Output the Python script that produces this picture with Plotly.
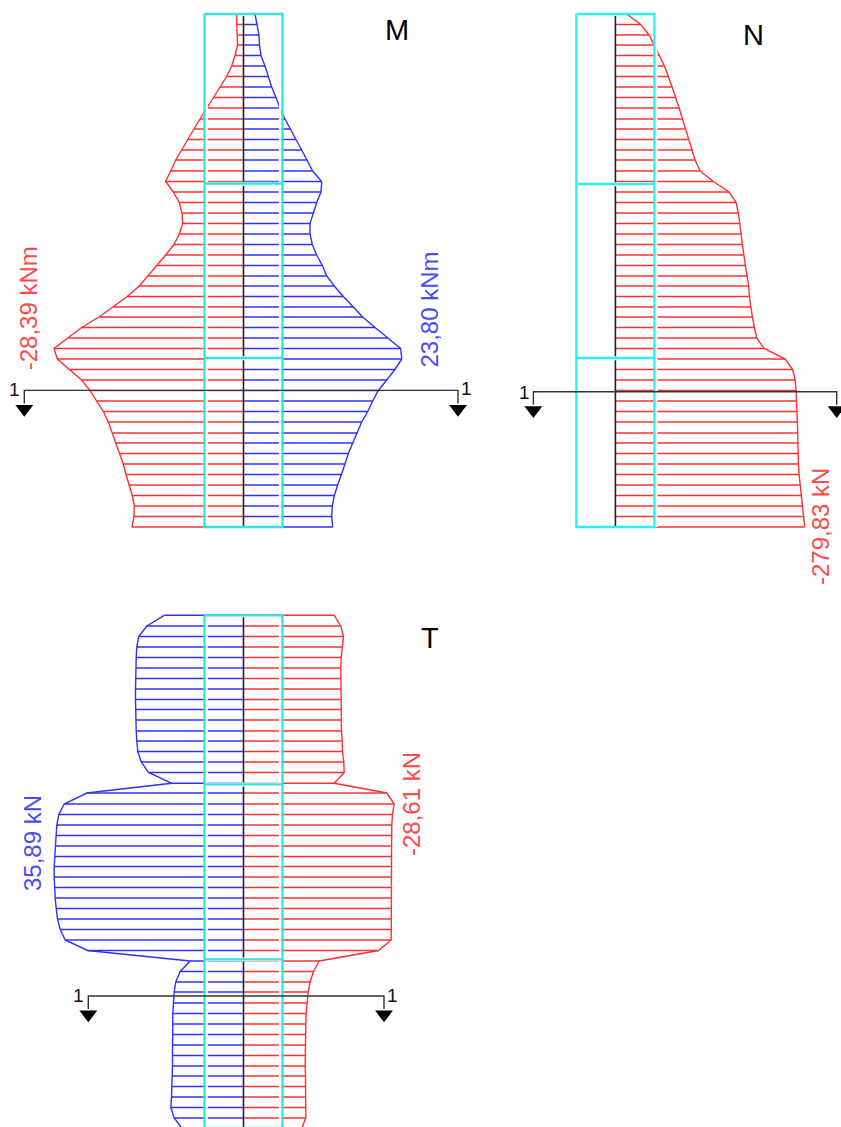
import plotly.graph_objects as go

RED = '#ff3030'
BLUE = '#3030ff'
LABEL_RED = '#ff4a4a'
LABEL_BLUE = '#4a4aff'
CYAN = '#35e3dc'
CYAN_N = '#2ef0ee'
DARK = '#222222'

# levels along the wall (top to bottom), shared by M and N
levels = [14, 24.5, 35, 45, 55.5, 66, 76.5, 87, 97.5, 108,
          119, 129, 139.5, 150, 160, 171, 181.5, 192, 202.5, 213,
          223.5, 234, 244.5, 255, 265.5, 276, 286, 296.5, 307, 317,
          327.5, 338, 348.5, 359, 369.5, 380, 390.5, 401, 411.5, 422,
          433, 443, 453.5, 464, 474.5, 485, 495.5, 506, 516.5, 527]

# bending moment, drawn length of each ordinate
m_neg = [7, 6.5, 6, 6, 8.5, 11.8, 16.8, 23.5, 30.5, 36.8,
         43.5, 49.5, 55.5, 61.8, 67.8, 72.8, 77.8, 70.2, 64.2, 61.5,
         60.8, 64.2, 69.5, 77.8, 86.8, 95.5, 104.2, 116.2, 130.2, 144.5,
         161.8, 175.2, 189.5, 186.2, 173.5, 161.8, 153.5, 146.8, 140.2, 135.2,
         131.2, 127.5, 124.2, 120.2, 117.5, 114.5, 111.2, 109.2, 109.5, 111.5]
m_pos = [11.5, 13.8, 15.5, 16, 17.5, 21.5, 24.5, 28.2, 32.5, 36.5,
         41.5, 47.2, 52.5, 58.2, 63.8, 69.2, 78.2, 77.5, 73.2, 69.8,
         66.5, 66.5, 68.8, 73.2, 78.8, 83.2, 90.8, 99.8, 109.8, 119.2,
         131.5, 144.8, 157.2, 158.2, 151.5, 143.2, 134.8, 129.2, 124.2, 118.2,
         113.8, 109.8, 104.8, 101.5, 98.2, 94.2, 90.8, 88.8, 88.2, 89.2]

# normal force
n_neg = [11.3, 25.3, 33.7, 38.7, 43.7, 49, 53, 57, 60.3, 63.7,
         67, 69.7, 73, 76.3, 79.7, 84.7, 98, 113.7, 120.7, 123,
         124.7, 125.7, 127, 128.3, 130, 131.7, 133.3, 134, 135.3, 137,
         139, 141.3, 148.7, 169.7, 177.3, 179.7, 180.7, 181.3, 182, 182,
         182.3, 182.3, 182.7, 183, 183.7, 184.7, 185.7, 186.7, 188, 189.3]

# shear force
t_levels = [615.3, 626, 636.5, 647, 657.5, 668, 678.5, 689, 699.5, 709.5,
            720, 731, 741, 751.5, 762, 772.5, 783.3, 793, 804, 814.5,
            825, 835.5, 846, 856.5, 866.5, 877, 887.5, 898, 908.5, 919,
            929.5, 940, 950.5, 961, 971.5, 982, 992, 1003, 1013.5, 1024,
            1034.5, 1045, 1055.5, 1066, 1076, 1086.5, 1097, 1107.5, 1118, 1128]
t_pos = [79.3, 96.7, 104.7, 106.7, 107.3, 107.7, 108, 108, 108, 108,
         107.7, 107.3, 106.7, 105.7, 102.3, 95, 71.7, 156.7, 179.3, 184.7,
         186.7, 187.3, 188.3, 189, 189.3, 189.3, 189, 188.3, 187.3, 186,
         183.3, 178.3, 156, 53.3, 63.3, 67.7, 69.3, 70.3, 70.7, 70.7,
         71, 71, 71, 71, 71.3, 71.3, 72, 72.7, 69.3, 61.7]
t_neg = [90.7, 97.3, 100, 98.7, 97.7, 97.3, 97.3, 97.3, 97.3, 97.3,
         97.7, 98, 98.7, 99, 100.3, 100.7, 90.7, 143.3, 150.7, 149,
         148.3, 148, 148, 148, 148, 148, 148, 148, 148, 148,
         148, 147.7, 135, 75.7, 70, 66.7, 64.7, 63.3, 62.7, 62.3,
         62, 61.7, 61.7, 61.7, 62, 62, 62.3, 62.7, 62.3, 58.3]

fig = go.Figure()


def add_line(xs, ys, color, width, axis='x'):
    fig.add_trace(go.Scatter(x=xs, y=ys, mode='lines', xaxis=axis, yaxis='y',
                             line=dict(color=color, width=width), hoverinfo='skip', showlegend=False))


def add_diagram(side, lev, vals, color, axis='x'):
    # side is -1 for left of the wall axis, +1 for right
    xs = [side * v for v in vals]
    hx, hy = [], []
    for a, b in zip(xs, lev):
        hx += [0, a, None]
        hy += [b, b, None]
    add_line(hx, hy, color, 1.5, axis)
    add_line(xs, lev, color, 1.4, axis)


def add_wall(top, bottom, sec1, sec2, cyan, axis='x', white_left=True, white_right=True):
    half = 39
    add_line([0, 0], [top + 2, bottom], DARK, 1.6, axis)
    # the white casing next to the cyan frame cuts the hatching
    if white_left:
        add_line([-half + 2.2, -half + 2.2], [top, bottom], 'white', 2.2, axis)
    if white_right:
        add_line([half - 2.4, half - 2.4], [top, bottom], 'white', 2.4, axis)
    else:
        add_line([half + 2, half + 2], [top, bottom], 'white', 2.2, axis)
    for s in [sec1, sec2]:
        add_line([-half, half], [s + 0.2, s + 0.2], 'white', 4, axis)
    fx = [-half, half, half, -half, -half, None, -half, half, None, -half, half]
    fy = [top, top, bottom, bottom, top, None, sec1, sec1, None, sec2, sec2]
    add_line(fx, fy, cyan, 2.3, axis)


def add_section(x0, x1, y, axis='x'):
    tip = y + 13
    add_line([x0, x0, x1, x1], [tip, y, y, tip], '#333333', 1.4, axis)
    fig.add_trace(go.Scatter(x=[x0, x1], y=[y + 18.5, y + 18.5], mode='markers', xaxis=axis, yaxis='y',
                             marker=dict(symbol='triangle-down', size=15.5, color='black', line=dict(width=0)),
                             hoverinfo='skip', showlegend=False, cliponaxis=False))


# M
add_diagram(-1, levels, m_neg, RED)
add_diagram(1, levels, m_pos, BLUE)
add_wall(14, 527, 183.5, 358, CYAN)
add_section(-219.2, 214.5, 390.4)

# N
add_diagram(1, levels, n_neg, RED, 'x2')
add_wall(14, 527, 184, 358, CYAN_N, 'x2', white_left=False, white_right=False)
add_section(-82, 221.3, 391.7, 'x2')

# T
add_diagram(-1, t_levels, t_pos, BLUE)
add_diagram(1, t_levels, t_neg, RED)
add_wall(615.3, 1128, 784.3, 959.3, CYAN)
add_section(-155.2, 140.5, 996)

labels = [
    ('-28,39 kNm', -215.2, 308, LABEL_RED, 'x'),
    ('23,80 kNm', 185, 310, LABEL_BLUE, 'x'),
    ('-279,83 kN', 204.6, 527, LABEL_RED, 'x2'),
    ('35,89 kN', -211.5, 843, LABEL_BLUE, 'x'),
    ('-28,61 kN', 167.5, 804, LABEL_RED, 'x'),
]
for text, x, y, color, axis in labels:
    fig.add_annotation(text=text, x=x, y=y, xref=axis, yref='y', showarrow=False, textangle=-90,
                       font=dict(family='Liberation Sans', size=24, color=color))

letters = [('M', 153.5, 30, 'x'), ('N', 137.6, 35, 'x2'), ('T', 186.5, 638, 'x')]
for text, x, y, axis in letters:
    fig.add_annotation(text=text, x=x, y=y, xref=axis, yref='y', showarrow=False,
                       font=dict(family='Liberation Sans', size=29, color='black'))

ones = [(-229.5, 389, 'x'), (222.5, 388, 'x'), (-91.4, 392, 'x2'), (-165.5, 995, 'x'), (148.5, 995, 'x')]
for x, y, axis in ones:
    fig.add_annotation(text='1', x=x, y=y, xref=axis, yref='y', showarrow=False,
                       font=dict(family='Liberation Sans', size=19, color='#111111'))

hidden = dict(visible=False, showgrid=False, zeroline=False, fixedrange=True)
fig.update_layout(
    width=841, height=1127,
    margin=dict(l=0, r=0, t=0, b=0),
    paper_bgcolor='white', plot_bgcolor='white',
    showlegend=False,
    xaxis=dict(range=[-243.5, 597.5], domain=[0, 1], **hidden),
    xaxis2=dict(range=[-615.4, 225.6], domain=[0, 1], overlaying='x', **hidden),
    yaxis=dict(range=[1127, 0], domain=[0, 1], **hidden),
)

fig.write_html("out.html", config={'displayModeBar': False},
               post_script="document.body.style.margin='0';document.body.style.overflow='hidden';")
